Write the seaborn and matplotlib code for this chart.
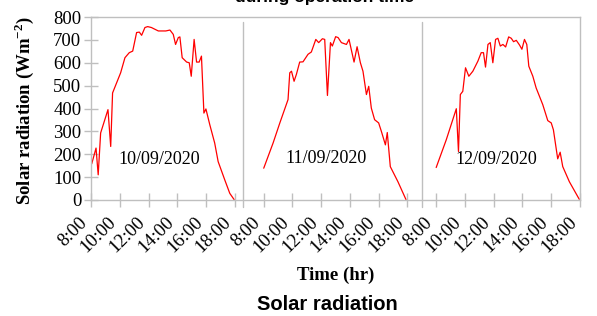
import matplotlib
matplotlib.use("Agg")
import matplotlib.pyplot as plt
import seaborn as sns
import pandas as pd

# ---- data ----
days = ["10/09/2020", "11/09/2020", "12/09/2020"]

time_d1 = [8.05, 8.35, 8.5, 8.67, 9.18, 9.37, 9.5, 10.06, 10.36, 10.66, 10.9, 11.17, 11.36, 11.52,
           11.75, 11.94, 12.2, 12.68, 13.2, 13.49, 13.72, 13.88, 14.07, 14.18, 14.34, 14.65, 14.83,
           14.97, 15.17, 15.34, 15.52, 15.68, 15.85, 15.99, 16.26, 16.6, 16.84, 17.3, 17.65, 17.95]
rad_d1 = [158, 227, 110, 293, 395, 234, 468, 556, 622, 644, 651, 732, 734, 720,
          754, 758, 754, 739, 739, 743, 724, 680, 710, 713, 622, 603, 600,
          541, 702, 603, 603, 629, 380, 398, 329, 249, 168, 88, 29, 2]

time_d2 = [8.01, 8.66, 9.13, 9.70, 9.82, 9.94, 10.12, 10.28, 10.51, 10.74, 11.09, 11.32, 11.63,
           11.83, 12.09, 12.25, 12.44, 12.65, 12.78, 13.01, 13.18, 13.41, 13.76, 13.94, 14.29,
           14.5, 14.73, 14.91, 15.15, 15.31, 15.49, 15.72, 16.0, 16.19, 16.47, 16.6, 16.81,
           17.34, 17.9]
rad_d2 = [139, 249, 337, 439, 556, 563, 519, 549, 603, 604, 637, 647, 702,
          688, 705, 702, 457, 688, 673, 714, 710, 688, 680, 702, 603,
          670, 600, 563, 461, 497, 402, 351, 337, 300, 241, 295, 146,
          80, 2]

time_d3 = [8.0, 8.7, 9.4, 9.55, 9.68, 9.85, 10.04, 10.27, 10.55, 10.9, 11.13, 11.29, 11.43, 11.6,
           11.76, 11.94, 12.13, 12.29, 12.46, 12.64, 12.83, 13.04, 13.22, 13.38, 13.57, 13.8,
           13.96, 14.14, 14.3, 14.44, 14.72, 14.95, 15.41, 15.76, 16.0, 16.15, 16.45, 16.62,
           16.8, 17.26, 17.95]
rad_d3 = [142, 263, 399, 212, 461, 475, 578, 541, 563, 607, 644, 644, 581, 680,
          688, 600, 702, 707, 673, 680, 669, 713, 707, 692, 698, 677,
          659, 702, 680, 585, 541, 490, 417, 347, 337, 307, 180, 209,
          146, 80, 3]

tick_hours = [8, 10, 12, 14, 16, 18]
tick_labels = ["8:00", "10:00", "12:00", "14:00", "16:00", "18:00"]
y_ticks = [0, 100, 200, 300, 400, 500, 600, 700, 800]

# ---- build table ----
series = [(time_d1, rad_d1), (time_d2, rad_d2), (time_d3, rad_d3)]
rows = []
for i, (day, (t, r)) in enumerate(zip(days, series)):
    off = 12 * i
    for tt, rr in zip(t, r):
        rows.append({"day": day, "pos": tt - 8 + off, "rad": rr})
df = pd.DataFrame(rows)

sns.set_theme(style="white")
plt.rcParams["font.family"] = ["Liberation Serif", "DejaVu Serif"]
plt.rcParams["mathtext.fontset"] = "custom"
plt.rcParams["mathtext.rm"] = "Liberation Serif"
plt.rcParams["mathtext.bf"] = "Liberation Serif:bold"
plt.rcParams["text.color"] = "black"

W, H = 597, 316
fig = plt.figure(figsize=(W / 100, H / 100), dpi=100)
L, R, T, B = 91, 580, 17, 200
ax = fig.add_axes([L / W, 1 - B / H, (R - L) / W, (B - T) / H])

sns.lineplot(data=df, x="pos", y="rad", units="day", estimator=None,
             color="#ff0000", linewidth=0.9, ax=ax, legend=False)

ax.set_xlim(0, 34)
ax.set_ylim(0, 800)

grey = "#bfbfbf"
for s in ax.spines.values():
    s.set_color(grey)
    s.set_linewidth(1.0)

xt, xl = [], []
for i in range(3):
    for h, lab in zip(tick_hours, tick_labels):
        xt.append(h - 8 + 12 * i)
        xl.append(lab)
ax.set_xticks(xt)
ax.set_xticklabels(xl, rotation=45, ha="right", rotation_mode="default")
ax.set_yticks(y_ticks)
ax.set_yticklabels([str(v) for v in y_ticks])
ax.tick_params(axis="both", direction="inout", length=10, width=1.0, color=grey,
               labelsize=13.5, labelcolor="black")
ax.tick_params(axis="x", pad=5)
ax.tick_params(axis="y", pad=2)
ax.tick_params(bottom=True, left=True)

# group separators
for xs in [10.6, 23.0]:
    ax.plot([xs, xs], [-0.04, 0.97], transform=ax.get_xaxis_transform(),
            color=grey, linewidth=1.0, clip_on=False)

# day annotations
ann_pos = [(4.75, 177), (16.34, 183), (28.2, 176)]
for d, (px, py) in zip(days, ann_pos):
    ax.text(px, py, d, ha="center", va="center", fontsize=13, color="black")

ax.set_xlabel("Time (hr)", fontsize=13.5, fontweight="bold", color="black")
ax.set_ylabel(r"Solar radiation (Wm$^{\mathbf{-2}}$)", fontsize=13.5, fontweight="bold", color="black")
ax.xaxis.set_label_coords(0.5, -0.365)
ax.yaxis.set_label_coords(-0.113, 0.49)

fig.text(325 / W, 1 - 2 / H, "during operation time", ha="center", va="baseline",
         fontsize=12.5, fontweight="bold", color="black",
         family=["Liberation Sans", "DejaVu Sans"])
fig.text(327 / W, 1 - 305 / H, "Solar radiation", ha="center", va="center",
         fontsize=14.5, fontweight="bold", color="black",
         family=["Liberation Sans Narrow", "Liberation Sans", "DejaVu Sans"])

fig.savefig("out.png", dpi=100)
